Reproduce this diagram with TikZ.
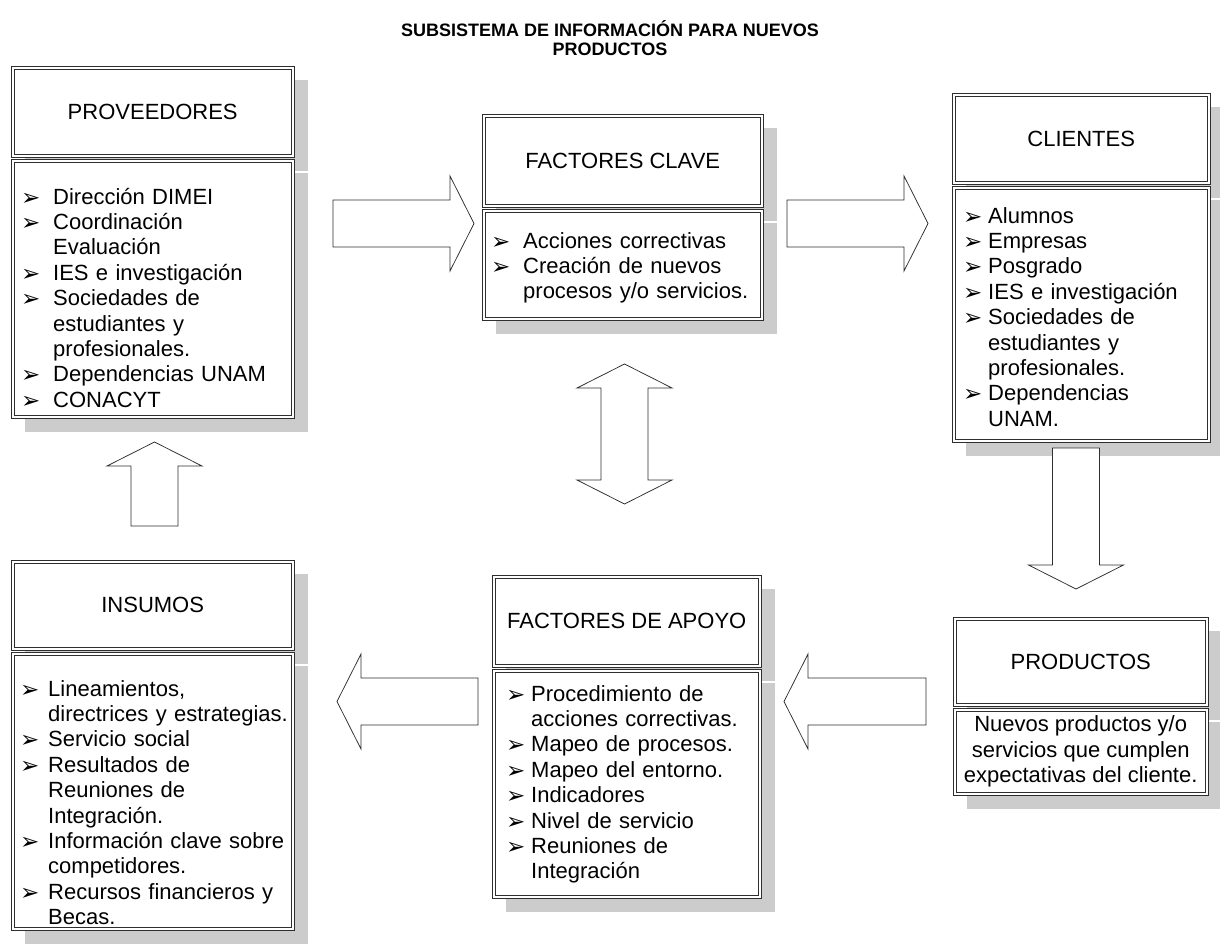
\documentclass[tikz,border=0pt]{standalone}
\usepackage{fontspec}
\setmainfont{Liberation Sans}
\newfontfamily\dingfont{DejaVu Sans}
\usetikzlibrary{calc}

\definecolor{ink}{gray}{0.18}
\definecolor{shadowgray}{gray}{0.80}

% list bullets: arrowhead bullet followed by the item text
\newlength\bulw
\newcommand\itm[1]{\makebox[\bulw][l]{\raisebox{-1pt}{\dingfont\fontsize{23}{23}\selectfont ➢}}#1}
\newcommand\cnt[1]{\hspace*{\bulw}#1}

\tikzset{
  panel/.style={draw=none, fill=white, inner sep=0pt, anchor=north west, align=center,
    font=\fontsize{22}{25.4}\selectfont},
  frameline/.style={draw=ink, line width=0.8pt},
  listtext/.style={anchor=base west, inner sep=0pt, text width=280pt, align=left,
    font=\fontsize{22}{25.4}\selectfont},
  blockarrow/.style={draw=ink, line width=0.75pt, fill=white, line join=miter},
}

% shaded double-framed panel: name, x1, y1, x2, y2, text
\newcommand\panel[6]{%
  \fill[shadowgray] (#2+14,#3+14) rectangle (#4+14,#5+14);
  \node[panel, minimum width={(#4)-(#2)}, minimum height={(#5)-(#3)}]
    (#1) at (#2,#3) {#6};
  \draw[frameline] ([shift={(0.4,0.4)}]#1.north west) rectangle ([shift={(-0.4,-0.4)}]#1.south east);
  \draw[frameline] ([shift={(3.5,3.5)}]#1.north west) rectangle ([shift={(-3.5,-3.5)}]#1.south east);
}

% wide block arrow from tail #1 to tip #2
\newcommand\blockarrow[2]{%
  \coordinate (hd) at ($(#2)!24pt!(#1)$);
  \draw[blockarrow] ($(#1)!23.5pt!90:(#2)$) -- ($(hd)!23.5pt!90:(#2)$)
    -- ($(hd)!47.5pt!90:(#2)$) -- (#2) -- ($(hd)!47.5pt!-90:(#2)$)
    -- ($(hd)!23.5pt!-90:(#2)$) -- ($(#1)!23.5pt!-90:(#2)$) -- cycle;
}

% wide block arrow with heads at both ends #1 and #2
\newcommand\twowayarrow[2]{%
  \coordinate (ha) at ($(#2)!24pt!(#1)$);
  \coordinate (hb) at ($(#1)!24pt!(#2)$);
  \draw[blockarrow] (#2) -- ($(ha)!47.5pt!90:(#2)$) -- ($(ha)!23.5pt!90:(#2)$)
    -- ($(hb)!23.5pt!90:(#2)$) -- ($(hb)!47.5pt!90:(#2)$) -- (#1)
    -- ($(hb)!47.5pt!-90:(#2)$) -- ($(hb)!23.5pt!-90:(#2)$)
    -- ($(ha)!23.5pt!-90:(#2)$) -- ($(ha)!47.5pt!-90:(#2)$) -- cycle;
}

\begin{document}
\begin{tikzpicture}[x=1pt, y=-1pt]
\useasboundingbox (0,0) rectangle (1220,947);
\fill[white] (0,0) rectangle (1220,947);

% title
\node[align=center, inner sep=0pt, font=\bfseries\fontsize{18}{19.5}\selectfont]
  (title) at (610,38) {SUBSISTEMA DE INFORMACIÓN PARA NUEVOS\\PRODUCTOS};

% Proveedores
\panel{provhead}{11}{66}{294}{157}{PROVEEDORES}
\panel{provbody}{11}{159}{294}{418}{}
\setlength\bulw{32pt}
\node[listtext] (provlist) at (21,204) {\itm{Dirección DIMEI}\\
  \itm{Coordinación}\\ \cnt{Evaluación}\\ \itm{IES e investigación}\\
  \itm{Sociedades de}\\ \cnt{estudiantes y}\\ \cnt{profesionales.}\\
  \itm{Dependencias UNAM}\\ \itm{CONACYT}};

% Factores clave
\panel{clavehead}{482}{114}{763}{207}{FACTORES CLAVE}
\panel{clavebody}{482}{209}{763}{320}{}
\setlength\bulw{32pt}
\node[listtext] (clavelist) at (491,248) {\itm{Acciones correctivas}\\
  \itm{Creación de nuevos}\\ \cnt{procesos y/o servicios.}};

% Clientes
\panel{clihead}{952}{93}{1210}{184}{CLIENTES}
\panel{clibody}{952}{186}{1210}{442}{}
\setlength\bulw{25pt}
\node[listtext] (clilist) at (963,223) {\itm{Alumnos}\\ \itm{Empresas}\\
  \itm{Posgrado}\\ \itm{IES e investigación}\\ \itm{Sociedades de}\\
  \cnt{estudiantes y}\\ \cnt{profesionales.}\\ \itm{Dependencias}\\ \cnt{UNAM.}};

% Productos
\panel{prodhead}{953}{617}{1208}{706}{PRODUCTOS}
\panel{prodbody}{953}{708}{1208}{795}{Nuevos productos y/o\\servicios que cumplen\\expectativas del cliente.}

% Factores de apoyo
\panel{apoyohead}{492}{575}{761}{667}{FACTORES DE APOYO}
\panel{apoyobody}{492}{669}{761}{898}{}
\setlength\bulw{25pt}
\node[listtext] (apoyolist) at (506,701) {\itm{Procedimiento de}\\
  \cnt{acciones correctivas.}\\ \itm{Mapeo de procesos.}\\
  \itm{Mapeo del entorno.}\\ \itm{Indicadores}\\ \itm{Nivel de servicio}\\
  \itm{Reuniones de}\\ \cnt{Integración}};

% Insumos
\panel{insuhead}{11}{560}{294}{650}{INSUMOS}
\panel{insubody}{11}{652}{294}{930}{}
\setlength\bulw{28pt}
\node[listtext] (insulist) at (20,696) {\itm{Lineamientos,}\\
  \cnt{directrices y estrategias.}\\ \itm{Servicio social}\\
  \itm{Resultados de}\\ \cnt{Reuniones de}\\ \cnt{Integración.}\\
  \itm{Información clave sobre}\\ \cnt{competidores.}\\
  \itm{Recursos financieros y}\\ \cnt{Becas.}};

% arrow end points
\coordinate (provout) at (333,223.5);
\coordinate (clavein) at (474,223.5);
\coordinate (claveout) at (787,223.5);
\coordinate (cliin) at (928,223.5);
\coordinate (cliout) at (1076,448);
\coordinate (prodin) at (1076,589);
\coordinate (prodout) at (926,701.5);
\coordinate (apoyoin) at (784,701.5);
\coordinate (apoyoout) at (478,701.5);
\coordinate (insuin) at (337,701.5);
\coordinate (insuout) at (154.5,526);
\coordinate (provin) at (154.5,442);
\coordinate (claveend) at (624.5,364);
\coordinate (apoyoend) at (624.5,504);

\blockarrow{provout}{clavein}
\blockarrow{claveout}{cliin}
\blockarrow{cliout}{prodin}
\blockarrow{prodout}{apoyoin}
\blockarrow{apoyoout}{insuin}
\blockarrow{insuout}{provin}
\twowayarrow{claveend}{apoyoend}
\end{tikzpicture}
\end{document}
